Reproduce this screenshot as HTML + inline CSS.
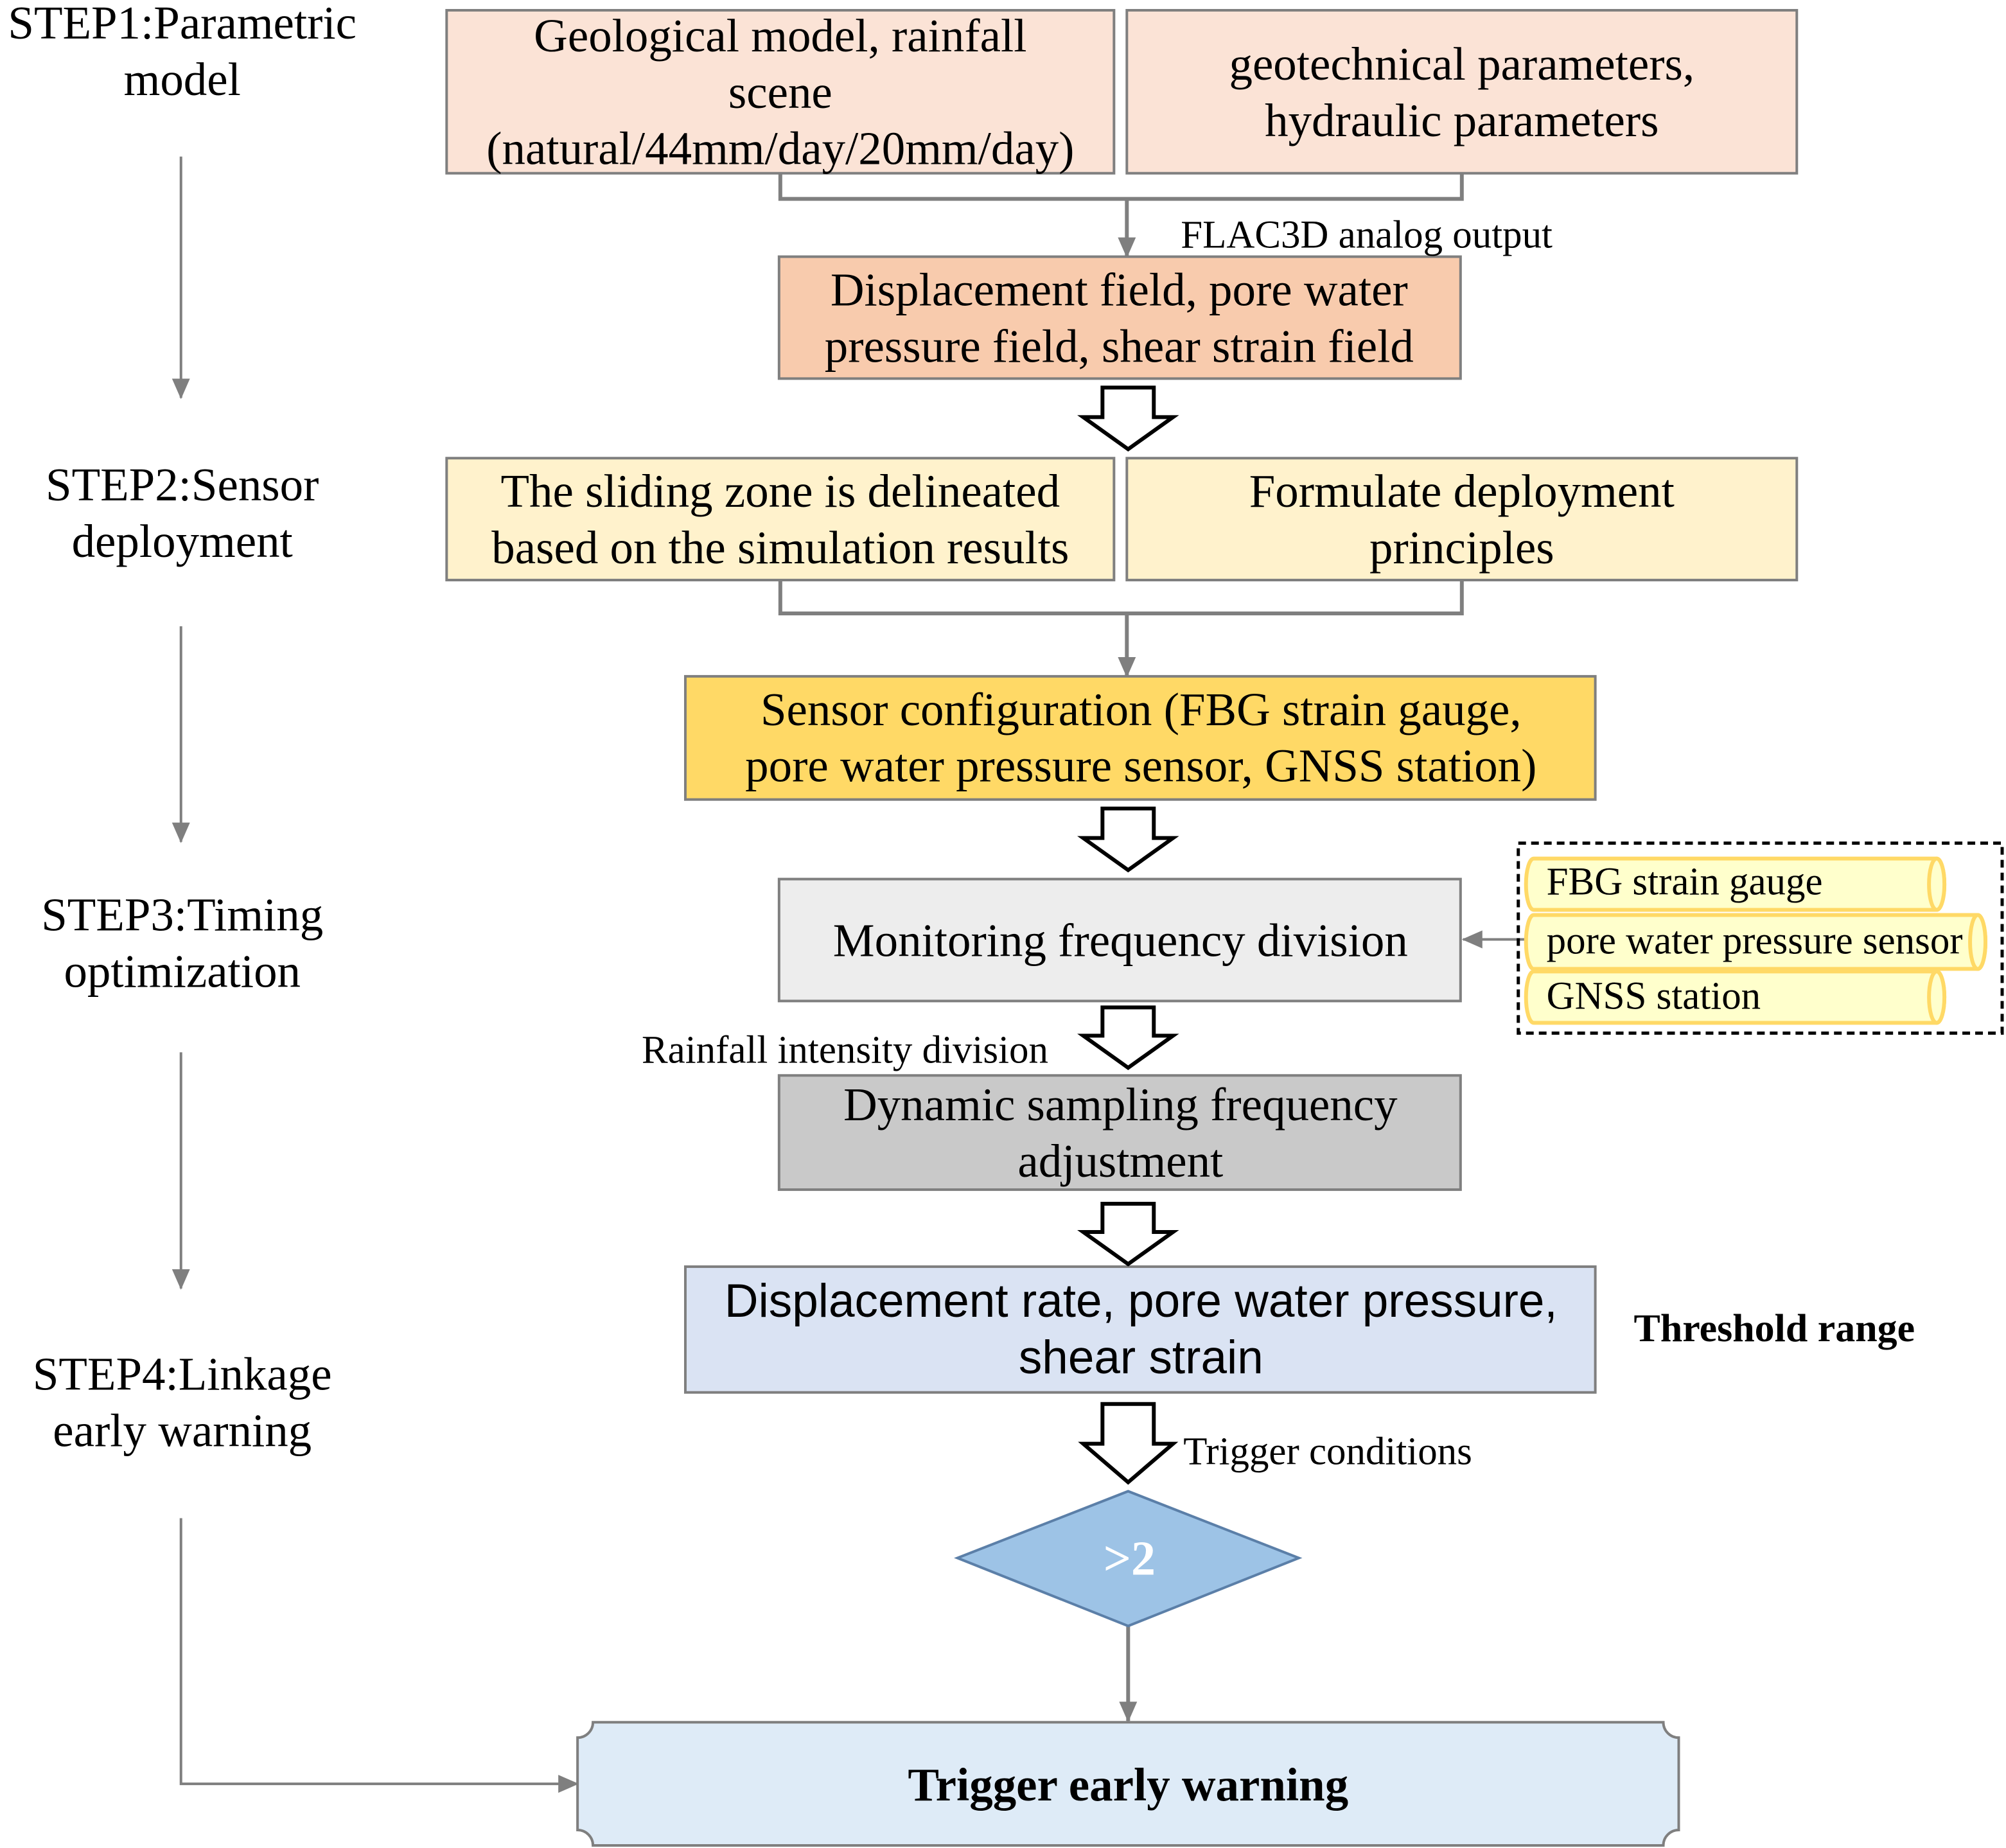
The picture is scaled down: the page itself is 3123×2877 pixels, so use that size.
<!DOCTYPE html>
<html><head><meta charset="utf-8"><style>html,body{margin:0;padding:0;background:#fff}svg{display:block}</style></head><body>
<svg width="3123" height="2877" viewBox="0 0 1563 1440" preserveAspectRatio="none" xmlns="http://www.w3.org/2000/svg" font-family="'Liberation Serif', serif">
<defs>
<marker id="ah2" markerWidth="16" markerHeight="14" refX="15" refY="7" orient="auto" markerUnits="userSpaceOnUse"><path d="M0,0 L16,7 L0,14 Z" fill="#7f7f7f"/></marker>
</defs>
<g font-size="36.5" text-anchor="middle" fill="#000">
<text x="142" y="30">STEP1:Parametric</text><text x="142" y="74">model</text>
<text x="142" y="390">STEP2:Sensor</text><text x="142" y="434">deployment</text>
<text x="142" y="725">STEP3:Timing</text><text x="142" y="769">optimization</text>
<text x="142" y="1083">STEP4:Linkage</text><text x="142" y="1127">early warning</text>
</g>
<g stroke="#7f7f7f" stroke-width="2" fill="none">
<line x1="141" y1="122" x2="141" y2="310" marker-end="url(#ah2)"/>
<line x1="141" y1="488" x2="141" y2="656" marker-end="url(#ah2)"/>
<line x1="141" y1="820" x2="141" y2="1004" marker-end="url(#ah2)"/>
<polyline points="141,1183 141,1390 450,1390" marker-end="url(#ah2)"/>
<polyline points="608,135 608,155 1139,155 1139,135" stroke-width="3"/>
<line x1="878" y1="155" x2="878" y2="200" stroke-width="3" marker-end="url(#ah2)"/>
<polyline points="608,452 608,478 1139,478 1139,452" stroke-width="3"/>
<line x1="878" y1="478" x2="878" y2="527" stroke-width="3" marker-end="url(#ah2)"/>
<line x1="1190" y1="732" x2="1140" y2="732" stroke-width="2" marker-end="url(#ah2)"/>
<line x1="879" y1="1267" x2="879" y2="1341" stroke-width="3" marker-end="url(#ah2)"/>
</g>
<g stroke="#7f7f7f" stroke-width="2">
<rect x="348" y="8" width="520" height="127" fill="#fbe3d6"/>
<rect x="878" y="8" width="522" height="127" fill="#fbe3d6"/>
<rect x="607" y="200" width="531" height="95" fill="#f8cbad"/>
<rect x="348" y="357" width="520" height="95" fill="#fff2cc"/>
<rect x="878" y="357" width="522" height="95" fill="#fff2cc"/>
<rect x="534" y="527" width="709" height="96" fill="#ffd966"/>
<rect x="607" y="685" width="531" height="95" fill="#ededed"/>
<rect x="607" y="838" width="531" height="89" fill="#c9c9c9"/>
<rect x="534" y="987" width="709" height="98" fill="#dae3f3"/>
<path d="M462,1342 L1296,1342 A12,12 0 0 0 1308,1354 L1308,1426 A12,12 0 0 0 1296,1438 L462,1438 A12,12 0 0 0 450,1426 L450,1354 A12,12 0 0 0 462,1342 Z" fill="#deebf7"/>
</g>
<path d="M746,1214 L879,1162 L1012,1214 L879,1267 Z" fill="#9dc3e6" stroke="#5b7fa8" stroke-width="2"/>
<g fill="#fff" stroke="#000" stroke-width="3">
<path d="M859,302 H899 V325 H914 L879,350 L844,325 H859 Z"/>
<path d="M859,630 H899 V653 H914 L879,678 L844,653 H859 Z"/>
<path d="M859,785 H899 V807 H914 L879,832 L844,807 H859 Z"/>
<path d="M859,938 H899 V960 H914 L879,985 L844,960 H859 Z"/>
<path d="M859,1094 H899 V1125 H914 L879,1155 L844,1125 H859 Z"/>
</g>
<rect x="1183" y="657" width="377" height="148" fill="none" stroke="#000" stroke-width="2.5" stroke-dasharray="6,4"/>
<g fill="#ffffcc" stroke="#ffd966" stroke-width="3">
<path d="M1195,669 H1509 A6,20 0 0 1 1509,709 H1195 A6,20 0 0 1 1195,669 Z"/><ellipse cx="1509" cy="689" rx="6" ry="20"/>
<path d="M1195,713 H1541 A6,21 0 0 1 1541,755 H1195 A6,21 0 0 1 1195,713 Z"/><ellipse cx="1541" cy="734" rx="6" ry="21"/>
<path d="M1195,757 H1509 A6,20 0 0 1 1509,797 H1195 A6,20 0 0 1 1195,757 Z"/><ellipse cx="1509" cy="777" rx="6" ry="20"/>
</g>
<g font-size="30.5" fill="#000">
<text x="1205" y="697">FBG strain gauge</text>
<text x="1205" y="743">pore water pressure sensor</text>
<text x="1205" y="786">GNSS station</text>
<text x="920" y="193">FLAC3D analog output</text>
<text x="500" y="828">Rainfall intensity division</text>
<text x="922" y="1141">Trigger conditions</text>
<text x="1273" y="1045" font-size="31" font-weight="bold">Threshold range</text>
</g>
<g font-size="36.5" text-anchor="middle" fill="#000">
<text x="608" y="40">Geological model, rainfall</text><text x="608" y="84">scene</text><text x="608" y="128">(natural/44mm/day/20mm/day)</text>
<text x="1139" y="62">geotechnical parameters,</text><text x="1139" y="106">hydraulic parameters</text>
<text x="872" y="238">Displacement field, pore water</text><text x="872" y="282">pressure field, shear strain field</text>
<text x="608" y="395">The sliding zone is delineated</text><text x="608" y="439">based on the simulation results</text>
<text x="1139" y="395">Formulate deployment</text><text x="1139" y="439">principles</text>
<text x="889" y="565">Sensor configuration (FBG strain gauge,</text><text x="889" y="609">pore water pressure sensor, GNSS station)</text>
<text x="873" y="745">Monitoring frequency division</text>
<text x="873" y="873">Dynamic sampling frequency</text><text x="873" y="917">adjustment</text>
<text x="889" y="1026" font-family="'Liberation Sans', sans-serif" font-size="36.5">Displacement rate, pore water pressure,</text>
<text x="889" y="1070" font-family="'Liberation Sans', sans-serif" font-size="36.5">shear strain</text>
<text x="880" y="1227" fill="#fff" font-weight="bold" font-size="38">&gt;2</text>
<text x="879" y="1403" font-weight="bold" font-size="36.5">Trigger early warning</text>
</g>
</svg>
</body></html>
